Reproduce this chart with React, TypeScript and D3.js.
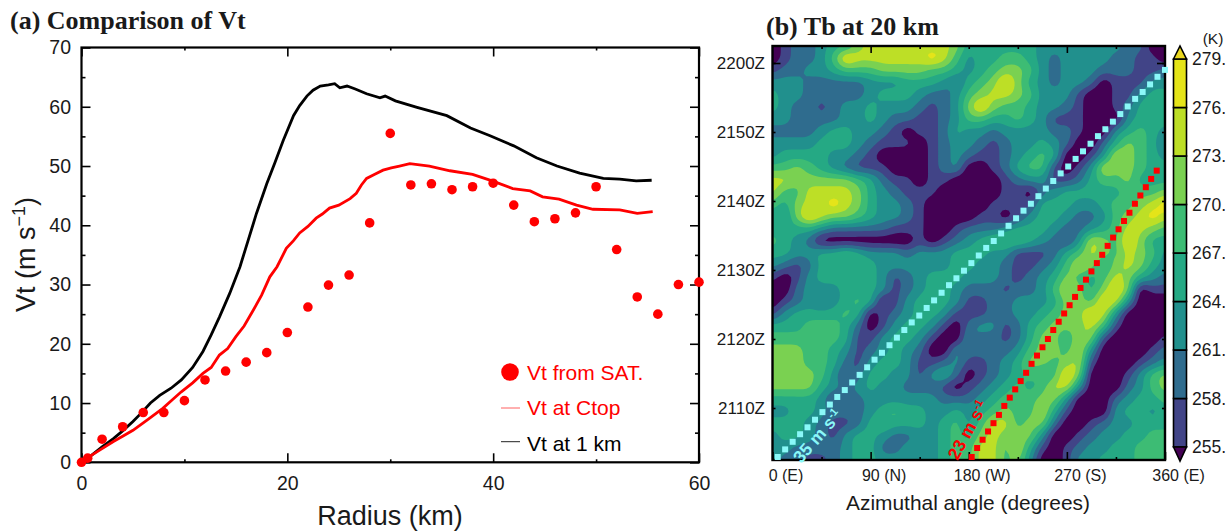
import React, { useEffect, useRef } from 'react';
import * as d3 from 'd3';

// panel (a)
const satRadius = [0, 0.6, 2, 4, 6, 8, 10, 12, 14, 16, 18, 20, 22, 24, 26, 28, 30, 32, 34, 36, 38, 40, 42, 44, 46, 48, 50, 52, 54, 56, 58, 60];
const satVt = [0, 0.7, 3.9, 6, 8.4, 8.4, 10.4, 13.9, 15.4, 16.9, 18.5, 21.9, 26.2, 29.9, 31.6, 40.4, 55.5, 46.8, 47, 46, 46.5, 47.1, 43.4, 40.6, 41.1, 42.1, 46.5, 35.9, 27.9, 25, 30, 30.4];

const ctopRadius = [0, 0.8, 2, 3.1, 4, 5, 6.5, 7.9, 8.8, 9.7, 10.8, 11.8, 12.6, 13.4, 14.2, 15, 15.8, 16.7, 17.5, 18.3, 19, 19.9, 20.6, 21.2, 22, 22.8, 23.4, 24.1, 25, 26.1, 26.7, 27.2, 27.7, 28.5, 29.3, 30.1, 30.9, 31.9, 33.8, 35.8, 38, 39.9, 41.9, 43.6, 44.8, 46.4, 48.1, 49.7, 52.3, 54, 55.5];
const ctopVt = [0, 1, 2.3, 3.5, 4.4, 5.4, 7.3, 9.1, 10.5, 11.9, 13.4, 15, 16, 18.1, 19.2, 21.2, 23, 25.7, 28.2, 31.3, 33, 36.1, 37.4, 38.7, 39.8, 41.2, 41.9, 42.9, 43.4, 44.5, 45.4, 46.8, 47.9, 48.6, 49.3, 49.7, 50, 50.4, 50, 49.2, 48.6, 47.5, 46.2, 45.8, 44.8, 44.4, 43.4, 42.7, 42.6, 42, 42.3];

const lowRadius = [0, 1, 2, 3.1, 4, 5, 5.8, 6.7, 7.6, 8.7, 9.7, 10.8, 11.8, 12.6, 13.4, 14.4, 15.4, 16.2, 17, 18, 18.8, 19.6, 20.6, 21.2, 21.9, 22.5, 23.2, 24, 24.6, 25.1, 25.8, 26.6, 27.7, 29, 29.5, 30.5, 32.6, 35.5, 37.8, 39.7, 42, 44.2, 46.2, 48.4, 50.7, 52.3, 53.9, 55.4];
const lowVt = [0, 1.2, 2.6, 4, 5.3, 6.9, 8.3, 10, 11.3, 12.5, 13.9, 16, 18.7, 21.5, 24.5, 28.5, 33, 37.5, 42, 47, 50.6, 54.3, 58.5, 60.2, 61.8, 62.8, 63.5, 63.7, 63.9, 63.2, 63.5, 63, 62.2, 61.5, 61.8, 61, 59.9, 58.5, 56.4, 55.1, 53.4, 51.4, 50, 48.8, 47.9, 47.8, 47.5, 47.6];

const radiusMajor = [0, 20, 40, 60];
const radiusMinor = [10, 30, 50];
const vtMajor = [0, 10, 20, 30, 40, 50, 60, 70];
const vtMinor = [5, 15, 25, 35, 45, 55, 65];

// panel (b), band index of Tb per grid point, top row first, 0 -> 360 deg
const tbBands = [
  '0122344677777776' + '44444433333332200',
  '0122358777777875' + '34455432333322110',
  '1223345556666554' + '34566532333222112',
  '3332222233344432' + '45686432332011133',
  '4332222234443223' + '56776533310011344',
  '4322123343332123' + '68655433210012444',
  '3322223343221123' + '55445431110003444',
  '2222344332101124' + '33233332210034543',
  '3333444321110123' + '32123343200246542',
  '3444433210000123' + '21123454001376543',
  '5565432111000123' + '00124551013766544',
  '7766666542110110' + '00012331124556444',
  '7557777643211100' + '00011023444445556',
  '5467787643321000' + '00111144433455678',
  '4368766543321000' + '01101344322356787',
  '4444322222111001' + '22234443223457765',
  '5432000000001012' + '34555432137658644',
  '4433445433323334' + '44331112457657653',
  '3212444443333334' + '43321123576467643',
  '1013444443123444' + '33321234654576432',
  '0023334443123443' + '22212235764686011',
  '0123234540134543' + '11223334665873000',
  '1344445401234431' + '11223345668730000',
  '4445554201344310' + '23312456667510000',
  '5555554113443100' + '32212466476100001',
  '6665543123432003' + '22223566573000012',
  '6665542134431123' + '11234665671000123',
  '6666531244331342' + '01234545860001356',
  '6666432343322210' + '12345457730002356',
  '4444312233333322' + '23455566300023445',
  '3344322234544334' + '34565574100034434',
  '4443211245444345' + '35775662001233444',
  '3443213443223345' + '46766630012334455',
  '3322223442233345' + '57757410123344555',
  '3221123443333345' + '57756300133444555',
];
const bandKelvin = [252, 256.5, 259.5, 262.5, 265.5, 268.5, 271.5, 274.5, 278.5];
const bandColors = ['#440154', '#414487', '#2f6c8e', '#21908d', '#25a984', '#3dbc74', '#7ad151', '#bddf26', '#e5e419'];
const kelvinLevels = [255, 258, 261, 264, 267, 270, 273, 276, 279];

const azimuthMajor = [0, 90, 180, 270, 360];
const azimuthLabels = ['0 (E)', '90 (N)', '180 (W)', '270 (S)', '360 (E)'];
const azimuthMinor = [45, 135, 225, 315];
// minutes after 2100Z
const timeTicks = [10, 20, 30, 40, 50, 60];
const timeLabels = ['2110Z', '2120Z', '2130Z', '2140Z', '2150Z', '2200Z'];

// markers of the two rotation speeds
const fastAzimuth = [4.8, 11.6, 18.5, 25.3, 32.1, 39, 45.8, 52.6, 59.4, 66.3, 73.1, 79.9, 86.8, 93.6, 100.4, 107.3, 114.1, 120.9, 127.7, 134.6, 141.4, 148.2, 155.1, 161.9, 168.7, 175.6, 182.4, 189.2, 196, 202.9, 209.7, 216.5, 223.4, 230.2, 237, 243.9, 250.7, 257.5, 264.3, 271.2, 278, 284.8, 291.7, 298.5, 305.3, 312.2, 319, 325.8, 332.6, 339.5, 346.3, 353.1, 360];
const fastMinute = [2.9, 4, 5.1, 6.2, 7.2, 8.3, 9.4, 10.5, 11.6, 12.6, 13.7, 14.8, 15.9, 17, 18, 19.1, 20.2, 21.3, 22.4, 23.4, 24.5, 25.6, 26.7, 27.8, 28.8, 29.9, 31, 32.1, 33.2, 34.2, 35.3, 36.4, 37.5, 38.6, 39.6, 40.7, 41.8, 42.9, 44, 45, 46.1, 47.2, 48.3, 49.4, 50.4, 51.5, 52.6, 53.7, 54.8, 55.8, 56.9, 58, 59];
const slowAzimuth = [182.7, 187.7, 192.7, 197.7, 202.7, 207.7, 212.6, 217.6, 222.6, 227.6, 232.6, 237.6, 242.6, 247.6, 252.6, 257.5, 262.5, 267.5, 272.5, 277.5, 282.5, 287.5, 292.5, 297.5, 302.4, 307.4, 312.4, 317.4, 322.4, 327.4, 332.4, 337.4, 342.4, 347.3, 352.4];
const slowMinute = [2.9, 4.2, 5.4, 6.6, 7.8, 9, 10.3, 11.5, 12.7, 13.9, 15.1, 16.4, 17.6, 18.8, 20, 21.3, 22.5, 23.7, 24.9, 26.1, 27.4, 28.6, 29.8, 31, 32.2, 33.5, 34.7, 35.9, 37.1, 38.3, 39.6, 40.8, 42, 43.2, 44.4];

const SANS = '"Liberation Sans", Arial, sans-serif';
const SERIF = '"Liberation Serif", "Times New Roman", serif';
const INK = '#1a1a1a';

function styleAxis(g: any, size: number) {
  g.select('.domain').remove();
  g.selectAll('line').attr('stroke', '#000').attr('stroke-width', 1.6);
  g.selectAll('text').attr('font-family', SANS).attr('font-size', size).attr('fill', INK);
  g.attr('font-family', SANS);
}

// finer copy of the read grid so the contour edges come out round instead of diamond shaped
function refineGrid(bands: string[], factor: number, blur: number) {
  const rows = bands.map((row) => row.split('').map((c) => bandKelvin[+c]));
  const h = rows.length;
  const w = rows[0].length;
  const fw = (w - 1) * factor + 1;
  const fh = (h - 1) * factor + 1;
  const data = new Float64Array(fw * fh);
  for (let j = 0; j < fh; j++) {
    const j0 = Math.min(Math.floor(j / factor), h - 2);
    const v = j / factor - j0;
    for (let i = 0; i < fw; i++) {
      const i0 = Math.min(Math.floor(i / factor), w - 2);
      const u = i / factor - i0;
      data[j * fw + i] =
        rows[j0][i0] * (1 - u) * (1 - v) +
        rows[j0][i0 + 1] * u * (1 - v) +
        rows[j0 + 1][i0] * (1 - u) * v +
        rows[j0 + 1][i0 + 1] * u * v;
    }
  }
  d3.blur2({ data, width: fw, height: fh }, blur);
  return { data, width: fw, height: fh };
}

export default function App() {
  const svgRef = useRef<SVGSVGElement>(null);

  useEffect(() => {
    const svg = d3.select(svgRef.current);
    svg.selectAll('*').remove();

    // ---------- panel (a)
    const x = d3.scaleLinear().domain([0, 60]).range([81.5, 699]);
    const y = d3.scaleLinear().domain([0, 70]).range([462.3, 47.5]);
    const a = svg.append('g');

    const drawA = (ax: any, at: string, size: number) => {
      const g = a.append('g').attr('transform', at).call(ax);
      styleAxis(g, size);
      return g;
    };
    drawA(d3.axisBottom(x).tickValues(radiusMinor).tickSize(-3).tickFormat(() => ''), `translate(0,${y(0)})`, 19.5);
    drawA(d3.axisTop(x).tickValues(radiusMinor).tickSize(-3).tickFormat(() => ''), `translate(0,${y(70)})`, 19.5);
    drawA(d3.axisBottom(x).tickValues(radiusMajor).tickSize(-9).tickPadding(14), `translate(0,${y(0)})`, 19.5);
    drawA(d3.axisTop(x).tickValues(radiusMajor).tickSize(-9).tickFormat(() => ''), `translate(0,${y(70)})`, 19.5);
    drawA(d3.axisLeft(y).tickValues(vtMinor).tickSize(-4).tickFormat(() => ''), `translate(${x(0)},0)`, 19.5);
    drawA(d3.axisRight(y).tickValues(vtMinor).tickSize(-4).tickFormat(() => ''), `translate(${x(60)},0)`, 19.5);
    drawA(d3.axisLeft(y).tickValues(vtMajor).tickSize(-9).tickPadding(10.5), `translate(${x(0)},0)`, 19.5);
    drawA(d3.axisRight(y).tickValues(vtMajor).tickSize(-9).tickFormat(() => ''), `translate(${x(60)},0)`, 19.5);

    a.append('rect')
      .attr('x', x(0)).attr('y', y(70))
      .attr('width', x(60) - x(0)).attr('height', y(0) - y(70))
      .attr('fill', 'none').attr('stroke', '#000').attr('stroke-width', 2.2);

    a.append('path')
      .attr('d', d3.line<number>().x((d) => x(d)).y((_, i) => y(lowVt[i]))(lowRadius))
      .attr('fill', 'none').attr('stroke', '#000').attr('stroke-width', 2.8);
    a.append('path')
      .attr('d', d3.line<number>().x((d) => x(d)).y((_, i) => y(ctopVt[i]))(ctopRadius))
      .attr('fill', 'none').attr('stroke', '#ff0000').attr('stroke-width', 2.8);

    a.append('g').selectAll('circle').data(satRadius).join('circle')
      .attr('cx', (d) => x(d))
      .attr('cy', (_, i) => y(satVt[i]))
      .attr('r', 4.8)
      .attr('fill', '#ff0000');

    a.append('circle').attr('cx', 510).attr('cy', 372).attr('r', 8.8).attr('fill', '#ff0000');
    a.append('line').attr('x1', 501).attr('x2', 520).attr('y1', 408).attr('y2', 408).attr('stroke', '#ff6060').attr('stroke-width', 1);
    a.append('line').attr('x1', 501).attr('x2', 520).attr('y1', 441.7).attr('y2', 441.7).attr('stroke', '#222').attr('stroke-width', 1);
    const legend = [['Vt from SAT.', 380, '#ff0000'], ['Vt at Ctop', 415, '#ff0000'], ['Vt at 1 km', 451, '#000']];
    a.append('g').selectAll('text').data(legend).join('text')
      .attr('x', 527).attr('y', (d) => d[1] as number)
      .attr('fill', (d) => d[2] as string)
      .attr('font-family', SANS).attr('font-size', 21)
      .text((d) => d[0] as string);

    a.append('text')
      .attr('x', 390).attr('y', 525).attr('text-anchor', 'middle')
      .attr('font-family', SANS).attr('font-size', 27).attr('fill', INK)
      .text('Radius (km)');
    const yTitle = a.append('text')
      .attr('transform', 'translate(35,312) rotate(-90)')
      .attr('font-family', SANS).attr('font-size', 27).attr('fill', INK);
    yTitle.append('tspan').text('Vt (m s');
    yTitle.append('tspan').attr('dy', -10).attr('font-size', 18).text('−1');
    yTitle.append('tspan').attr('dy', 10).text(')');

    a.append('text')
      .attr('x', 10).attr('y', 29)
      .attr('font-family', SERIF).attr('font-weight', 'bold').attr('font-size', 26).attr('fill', INK)
      .text('(a) Comparison of Vt');

    // ---------- panel (b)
    const az = d3.scaleLinear().domain([0, 360]).range([772.5, 1165]);
    const t = d3.scaleLinear().domain([10, 60]).range([408, 63]);
    const fine = refineGrid(tbBands, 4, 0.6);
    // contour coordinates sit half a cell off the grid points
    const gridX = d3.scaleLinear().domain([0.5, fine.width - 0.5]).range([772.5, 1165]);
    const gridY = d3.scaleLinear().domain([0.5, fine.height - 0.5]).range([46, 460]);
    const project = d3.geoTransform({
      point(px: number, py: number) {
        (this as any).stream.point(gridX(px), gridY(py));
      },
    });
    const contourPath = d3.geoPath(project);
    const contours = d3.contours().size([fine.width, fine.height]).thresholds(kelvinLevels)(Array.from(fine.data));

    svg.append('defs').append('clipPath').attr('id', 'tb-clip').append('rect')
      .attr('x', az(0)).attr('y', 46).attr('width', az(360) - az(0)).attr('height', 414);

    const b = svg.append('g');
    const map = b.append('g').attr('clip-path', 'url(#tb-clip)');
    map.append('rect')
      .attr('x', az(0)).attr('y', 46).attr('width', az(360) - az(0)).attr('height', 414)
      .attr('fill', bandColors[0]);
    map.selectAll('path').data(contours).join('path')
      .attr('d', (d: any) => contourPath(d))
      .attr('fill', (_, i) => bandColors[Math.min(i + 1, bandColors.length - 1)]);

    const drawB = (ax: any, at: string, size: number) => {
      const g = b.append('g').attr('transform', at).call(ax);
      styleAxis(g, size);
      return g;
    };
    drawB(d3.axisBottom(az).tickValues(azimuthMinor).tickSize(-3).tickFormat(() => ''), 'translate(0,460)', 16);
    drawB(d3.axisTop(az).tickValues(azimuthMinor.concat(180)).tickSize(-3).tickFormat(() => ''), 'translate(0,46)', 16);
    drawB(d3.axisTop(az).tickValues([90, 270]).tickSize(-7).tickFormat(() => ''), 'translate(0,46)', 16);
    const azBottom = drawB(
      d3.axisBottom(az).tickValues(azimuthMajor).tickSize(-8).tickPadding(9.6).tickFormat((_, i) => azimuthLabels[i]),
      'translate(0,460)', 16,
    );
    azBottom.selectAll('text').attr('dx', 13);
    drawB(
      d3.axisLeft(t).tickValues(timeTicks).tickSize(-3).tickPadding(7.5).tickFormat((_, i) => timeLabels[i]),
      `translate(${az(0)},0)`, 17,
    );
    drawB(d3.axisRight(t).tickValues(timeTicks).tickSize(-3).tickFormat(() => ''), `translate(${az(360)},0)`, 17);
    drawB(d3.axisLeft(t).tickValues([60]).tickSize(-8).tickFormat(() => ''), `translate(${az(0)},0)`, 17);
    drawB(d3.axisRight(t).tickValues([60]).tickSize(-8).tickFormat(() => ''), `translate(${az(360)},0)`, 17);

    b.append('rect')
      .attr('x', az(0)).attr('y', 46).attr('width', az(360) - az(0)).attr('height', 414)
      .attr('fill', 'none').attr('stroke', '#000').attr('stroke-width', 2.4);

    const drawSquares = (azimuths: number[], minutes: number[], color: string) => {
      b.append('g').selectAll('rect').data(azimuths).join('rect')
        .attr('x', (d) => az(d) - 3)
        .attr('y', (_, i) => t(minutes[i]) - 3)
        .attr('width', 6).attr('height', 6)
        .attr('fill', color);
    };
    drawSquares(fastAzimuth, fastMinute, '#8af8f8');
    drawSquares(slowAzimuth, slowMinute, '#ff0000');

    const speedLabel = (cx: number, cy: number, angle: number, color: string, text: string) => {
      const lab = b.append('text')
        .attr('transform', `translate(${cx},${cy}) rotate(${angle})`)
        .attr('text-anchor', 'middle')
        .attr('font-family', SANS).attr('font-weight', 'bold').attr('font-size', 17.5).attr('fill', color);
      lab.append('tspan').text(text);
      lab.append('tspan').attr('dy', -6).attr('font-size', 11).text('-1');
    };
    speedLabel(822, 440, -49, '#8af8f8', '35 m s');
    speedLabel(973, 433, -61, '#ff0000', '23 m s');

    b.append('text')
      .attr('x', 968).attr('y', 510).attr('text-anchor', 'middle')
      .attr('font-family', SANS).attr('font-size', 20.9).attr('fill', INK)
      .text('Azimuthal angle (degrees)');
    b.append('text')
      .attr('x', 766).attr('y', 35)
      .attr('font-family', SERIF).attr('font-weight', 'bold').attr('font-size', 26).attr('fill', INK)
      .text('(b) Tb at 20 km');

    // colour bar
    const k = d3.scaleLinear().domain([255, 279]).range([447, 59]);
    const barX0 = 1173.5;
    const barX1 = 1186.5;
    const barMid = (barX0 + barX1) / 2;
    const bar = svg.append('g');
    bar.selectAll('rect').data(d3.pairs(kelvinLevels)).join('rect')
      .attr('x', barX0).attr('width', barX1 - barX0)
      .attr('y', (d) => k(d[1])).attr('height', (d) => k(d[0]) - k(d[1]))
      .attr('fill', (_, i) => bandColors[i + 1])
      .attr('stroke', '#000').attr('stroke-width', 1.6);
    const tri = d3.line();
    bar.append('path')
      .attr('d', tri([[barX0, k(279)], [barMid, 46], [barX1, k(279)]]) + 'Z')
      .attr('fill', '#ead71f').attr('stroke', '#000').attr('stroke-width', 1.6);
    bar.append('path')
      .attr('d', tri([[barX0, k(255)], [barMid, 461], [barX1, k(255)]]) + 'Z')
      .attr('fill', bandColors[0]).attr('stroke', '#000').attr('stroke-width', 1.6);
    const barAxis = bar.append('g').attr('transform', `translate(${barX1},0)`)
      .call(d3.axisRight(k).tickValues(kelvinLevels).tickSize(0).tickPadding(5.5).tickFormat((d) => `${d}.`));
    styleAxis(barAxis, 17.5);
    bar.append('text')
      .attr('x', 1213).attr('y', 44).attr('text-anchor', 'middle')
      .attr('font-family', SANS).attr('font-size', 15.5).attr('fill', INK)
      .text('(K)');
  }, []);

  return (
    <svg
      ref={svgRef}
      width={1227}
      height={531}
      style={{ position: 'absolute', left: 0, top: 0, display: 'block', background: '#fff' }}
    />
  );
}
